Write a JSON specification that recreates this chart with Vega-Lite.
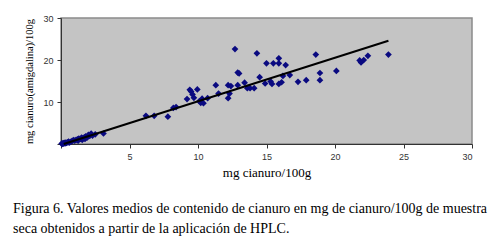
{
  "$schema": "https://vega.github.io/schema/vega-lite/v6.json",
  "autosize": "none",
  "width": 411,
  "height": 126,
  "padding": {"left": 61, "top": 18, "right": 28, "bottom": 101},
  "background": "white",
  "config": {
    "view": {"fill": "#c4c4c4", "stroke": "#8a8a8a", "strokeWidth": 1.5},
    "axis": {"grid": false, "domainColor": "#333333", "tickColor": "#333333", "tickSize": 4, "labelFont": "Liberation Sans", "labelFontSize": 9, "labelColor": "#333333", "titleFont": "Liberation Serif", "titleFontWeight": "normal", "titleColor": "#000000"}
  },
  "title": {
    "text": ["Figura 6. Valores medios de contenido de cianuro en mg de cianuro/100g de muestra", "seca obtenidos a partir de la aplicación de HPLC."],
    "orient": "bottom",
    "anchor": "start",
    "frame": "group",
    "dx": -48,
    "offset": 23,
    "font": "Liberation Serif",
    "fontSize": 14,
    "fontWeight": "normal",
    "lineHeight": 20,
    "color": "#000000"
  },
  "datasets": {
    "pts": [
      {"x": 0.05, "y": 0.1}, {"x": 0.1, "y": 0.05}, {"x": 0.15, "y": 0.2}, {"x": 0.2, "y": 0.1},
      {"x": 0.25, "y": 0.3}, {"x": 0.3, "y": 0.15}, {"x": 0.35, "y": 0.35}, {"x": 0.4, "y": 0.25},
      {"x": 0.5, "y": 0.4}, {"x": 0.55, "y": 0.6}, {"x": 0.6, "y": 0.3}, {"x": 0.7, "y": 0.5},
      {"x": 0.8, "y": 0.7}, {"x": 0.9, "y": 0.9}, {"x": 1.0, "y": 0.8}, {"x": 1.1, "y": 1.0},
      {"x": 1.2, "y": 1.1}, {"x": 1.25, "y": 0.8}, {"x": 1.3, "y": 1.3}, {"x": 1.4, "y": 1.2},
      {"x": 1.5, "y": 1.5}, {"x": 1.55, "y": 1.0}, {"x": 1.6, "y": 1.4}, {"x": 1.7, "y": 1.6},
      {"x": 1.75, "y": 1.2}, {"x": 1.8, "y": 1.8}, {"x": 1.9, "y": 1.5}, {"x": 2.0, "y": 2.2},
      {"x": 2.1, "y": 1.9}, {"x": 2.2, "y": 2.5}, {"x": 2.3, "y": 2.0}, {"x": 2.5, "y": 2.3},
      {"x": 3.1, "y": 2.5},
      {"x": 6.2, "y": 6.7}, {"x": 6.8, "y": 6.7}, {"x": 7.8, "y": 6.5},
      {"x": 8.2, "y": 8.6}, {"x": 8.4, "y": 8.8}, {"x": 9.2, "y": 10.7}, {"x": 9.4, "y": 12.9},
      {"x": 9.5, "y": 12.5}, {"x": 9.6, "y": 11.8}, {"x": 9.7, "y": 11.0}, {"x": 9.95, "y": 13.0},
      {"x": 10.1, "y": 10.2}, {"x": 10.2, "y": 9.8}, {"x": 10.3, "y": 10.8}, {"x": 10.4, "y": 9.7},
      {"x": 10.7, "y": 10.9}, {"x": 11.3, "y": 14.0}, {"x": 11.5, "y": 12.0}, {"x": 12.2, "y": 14.0},
      {"x": 12.2, "y": 10.9}, {"x": 12.3, "y": 12.0}, {"x": 12.4, "y": 13.8}, {"x": 12.7, "y": 22.6},
      {"x": 12.9, "y": 14.0}, {"x": 12.9, "y": 17.0}, {"x": 13.0, "y": 16.8}, {"x": 13.4, "y": 14.6},
      {"x": 13.6, "y": 13.3}, {"x": 13.8, "y": 13.3}, {"x": 14.1, "y": 13.3}, {"x": 14.3, "y": 21.6},
      {"x": 14.5, "y": 15.9}, {"x": 14.9, "y": 14.4}, {"x": 15.0, "y": 19.2}, {"x": 15.3, "y": 14.9},
      {"x": 15.4, "y": 14.3}, {"x": 15.5, "y": 19.2}, {"x": 15.9, "y": 20.4}, {"x": 15.9, "y": 19.2},
      {"x": 15.9, "y": 14.3}, {"x": 16.1, "y": 14.7}, {"x": 16.2, "y": 16.2}, {"x": 16.4, "y": 18.8},
      {"x": 16.7, "y": 16.4}, {"x": 17.3, "y": 14.8}, {"x": 17.9, "y": 15.2}, {"x": 18.6, "y": 21.3},
      {"x": 18.9, "y": 16.9}, {"x": 18.9, "y": 15.2}, {"x": 20.1, "y": 17.4}, {"x": 21.8, "y": 19.9},
      {"x": 21.9, "y": 19.4}, {"x": 22.1, "y": 20.0}, {"x": 22.4, "y": 21.0}, {"x": 23.9, "y": 21.3}
    ],
    "fit": [{"x": 0.2, "y": 0.0}, {"x": 23.9, "y": 24.6}]
  },
  "encoding": {
    "x": {"field": "x", "type": "quantitative", "scale": {"domain": [0, 30], "nice": false},
      "axis": {"values": [0, 5, 10, 15, 20, 25, 30], "labelExpr": "datum.value == 0 ? '' : datum.label", "title": "mg cianuro/100g", "titleFontSize": 13, "titlePadding": 5, "labelPadding": 4}},
    "y": {"field": "y", "type": "quantitative", "scale": {"domain": [0, 30], "nice": false},
      "axis": {"values": [0, 10, 20, 30], "labelExpr": "datum.value == 0 ? '' : datum.label", "title": "mg cianuro(amigdalina)/100g", "titleFontSize": 10.5, "titlePadding": 8, "labelPadding": 4}}
  },
  "layer": [
    {"data": {"name": "pts"}, "mark": {"type": "point", "shape": "diamond", "filled": true, "color": "#0a0a80", "size": 45, "opacity": 1}},
    {"data": {"name": "fit"}, "mark": {"type": "line", "color": "#000000", "strokeWidth": 2}}
  ]
}
